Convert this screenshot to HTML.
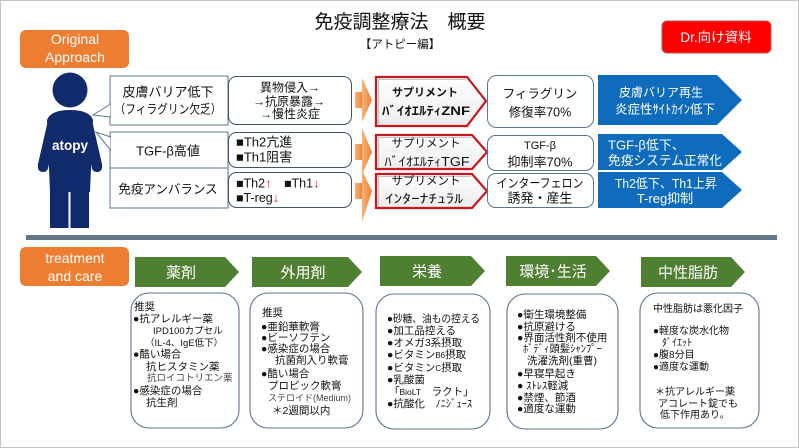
<!DOCTYPE html>
<html lang="ja">
<head>
<meta charset="utf-8">
<style>
  html,body{margin:0;padding:0;background:#fff;}
  svg{display:block;}
  text{font-family:"Liberation Sans","Noto Sans CJK JP",sans-serif;}
</style>
</head>
<body>
<svg width="799" height="448" viewBox="0 0 799 448" xmlns="http://www.w3.org/2000/svg">
  <defs>
    <linearGradient id="og" x1="0" y1="0" x2="1" y2="0">
      <stop offset="0" stop-color="#f7b27a"/>
      <stop offset="1" stop-color="#ee8033"/>
    </linearGradient>
    <linearGradient id="sg" x1="0" y1="0" x2="0" y2="1">
      <stop offset="0" stop-color="#ffffff"/>
      <stop offset="1" stop-color="#ececec"/>
    </linearGradient>
  </defs>

  <!-- page frame -->
  <rect x="0.5" y="0.5" width="798" height="447" fill="#fff" stroke="#c4c4c4" stroke-width="1"/>

  <!-- Title -->
  <text x="400" y="28" font-size="19" text-anchor="middle" fill="#111">免疫調整療法　概要</text>
  <text x="400" y="48" font-size="11.5" text-anchor="middle" fill="#111">【アトピー編】</text>

  <!-- Dr box -->
  <rect x="662" y="21" width="109" height="32" rx="5" fill="#ff0000" stroke="#b55" stroke-width="1"/>
  <text x="716" y="42" font-size="13.5" text-anchor="middle" fill="#fff">Dr.向け資料</text>

  <!-- Original Approach -->
  <rect x="20" y="30" width="109" height="38" rx="6" fill="#ed7d31"/>
  <text x="75" y="44" font-size="14" text-anchor="middle" fill="#fff">Original</text>
  <text x="75" y="62" font-size="14" text-anchor="middle" fill="#fff">Approach</text>

  <!-- Left callout boxes -->
  <g fill="#fff" stroke="#5a7391" stroke-width="1">
    <rect x="110" y="76" width="118" height="49"/>
    <rect x="110" y="132" width="118" height="36"/>
    <rect x="110" y="168" width="118" height="40"/>
    <polygon points="110.5,104 93,115 110.5,117"/>
    <polygon points="110.5,137 96,132 110.5,150"/>
  </g>
  <!-- cover tail joins -->
  <rect x="110.5" y="104.5" width="1.2" height="12" fill="#fff"/>
  <rect x="110.5" y="137.5" width="1.2" height="12" fill="#fff"/>
  <text x="168" y="96.5" font-size="13" text-anchor="middle" fill="#111">皮膚バリア低下</text>
  <text x="168" y="113.5" font-size="12.5" text-anchor="middle" fill="#111" textLength="107" lengthAdjust="spacingAndGlyphs">（フィラグリン欠乏）</text>
  <text x="168" y="155.5" font-size="13" text-anchor="middle" fill="#111">TGF-β高値</text>
  <text x="168" y="193.5" font-size="12.5" text-anchor="middle" fill="#111">免疫アンバランス</text>

  <!-- Person (drawn on top of tails) -->
  <g fill="#102a6b">
    <circle cx="70" cy="90" r="17.5"/>
    <path d="M47 120 C50 112 60 110 70 110 C80 110 90 112 93 120 L90 192 L50 192 Z"/>
    <path d="M84 122 L91 116 L102 164 Q103 172 97 172 Q92 172 91.5 166 L84 140 Z"/>
    <path d="M56 122 L49 116 L38 164 Q37 172 43 172 Q48 172 48.5 166 L56 140 Z"/>
    <rect x="50" y="185" width="18.5" height="43"/>
    <rect x="70.5" y="185" width="18.5" height="43"/>
  </g>
  <text x="70" y="150" font-size="13.5" font-weight="bold" text-anchor="middle" fill="#fff">atopy</text>

  <!-- Middle rounded boxes -->
  <g fill="#fff" stroke="#44546a" stroke-width="1">
    <rect x="228.5" y="76.5" width="123" height="48" rx="8"/>
    <rect x="228.5" y="132.5" width="123" height="35" rx="8"/>
    <rect x="228.5" y="172.5" width="123" height="35" rx="8"/>
  </g>
  <text x="290" y="91.5" font-size="12" text-anchor="middle" fill="#111">異物侵入→</text>
  <text x="289" y="105.5" font-size="12" text-anchor="middle" fill="#111">→抗原暴露→</text>
  <text x="290" y="118" font-size="12" text-anchor="middle" fill="#111">→慢性炎症</text>
  <text x="236" y="146.5" font-size="13" fill="#111">■Th2亢進</text>
  <text x="236" y="161.5" font-size="13" fill="#111">■Th1阻害</text>
  <text x="236" y="187.5" font-size="12.5" fill="#111">■Th2<tspan fill="#e8231e">↑</tspan></text>
  <text x="284" y="187.5" font-size="12.5" fill="#111">■Th1<tspan fill="#e8231e">↓</tspan></text>
  <text x="236" y="202" font-size="12.5" fill="#111">■T-reg<tspan fill="#e8231e">↓</tspan></text>

  <!-- Orange arrows -->
  <g fill="url(#og)">
    <rect x="355" y="92" width="8" height="16"/>
    <polygon points="362,78 372,100 362,122"/>
    <rect x="355" y="144" width="8" height="16"/>
    <polygon points="362,128 372,152 362,175"/>
    <rect x="355" y="183" width="8" height="16"/>
    <polygon points="362,170 372,191 362,222"/>
  </g>

  <!-- Supplement (red pentagons) -->
  <g fill="url(#sg)" stroke="#c8171d" stroke-width="2.2">
    <polygon points="376,77 467,77 486,101 467,126 376,126"/>
    <polygon points="376,135 472,135 487,152 472,169 376,169"/>
    <polygon points="376,174 472,174 487,191 472,208 376,208"/>
  </g>
  <g fill="none" stroke="#b0b0b0" stroke-width="0.8">
    <polyline points="378.5,124 378.5,79.5 466,79.5"/>
    <polyline points="378.5,167 378.5,137.5 471,137.5"/>
    <polyline points="378.5,206 378.5,176.5 471,176.5"/>
  </g>
  <text x="425" y="96" font-size="11" font-weight="bold" text-anchor="middle" fill="#111">サプリメント</text>
  <text x="426" y="115" font-size="12" font-weight="bold" text-anchor="middle" fill="#111" textLength="88" lengthAdjust="spacingAndGlyphs">ﾊﾞｲｵｴﾙﾃｨZNF</text>
  <text x="426" y="147" font-size="11.5" text-anchor="middle" fill="#111">サプリメント</text>
  <text x="427" y="166" font-size="12.5" text-anchor="middle" fill="#111" textLength="85" lengthAdjust="spacingAndGlyphs">ﾊﾞｲｵｴﾙﾃｨTGF</text>
  <text x="426" y="184.5" font-size="11.5" text-anchor="middle" fill="#111">サプリメント</text>
  <text x="424" y="203" font-size="12.5" text-anchor="middle" fill="#111" textLength="78" lengthAdjust="spacingAndGlyphs">ｲﾝﾀｰﾅﾁｭﾗﾙ</text>

  <!-- Result boxes -->
  <g fill="#fff" stroke="#5a7391" stroke-width="1">
    <rect x="487.5" y="75.5" width="106" height="52" rx="9"/>
    <rect x="487.5" y="135.5" width="106" height="35" rx="8"/>
    <rect x="487.5" y="173.5" width="106" height="34" rx="8"/>
  </g>
  <text x="540" y="98" font-size="12.5" text-anchor="middle" fill="#111">フィラグリン</text>
  <text x="540" y="116.5" font-size="12.5" text-anchor="middle" fill="#111">修復率70%</text>
  <text x="540" y="149" font-size="11" text-anchor="middle" fill="#111">TGF-β</text>
  <text x="540" y="166.5" font-size="13" text-anchor="middle" fill="#111">抑制率70%</text>
  <text x="540" y="187.5" font-size="12.5" text-anchor="middle" fill="#111" textLength="87" lengthAdjust="spacingAndGlyphs">インターフェロン</text>
  <text x="540" y="202.5" font-size="13" text-anchor="middle" fill="#111">誘発・産生</text>

  <!-- Blue pentagons -->
  <g fill="#0f6cbd">
    <polygon points="598,75 717,75 742,100 717,125 598,125"/>
    <polygon points="598,134 722,134 742,152 722,170 598,170"/>
    <polygon points="598,172 722,172 742,190 722,208 598,208"/>
  </g>
  <text x="661" y="96.5" font-size="12" text-anchor="middle" fill="#fff">皮膚バリア再生</text>
  <text x="665" y="113.5" font-size="12.5" text-anchor="middle" fill="#fff" textLength="100" lengthAdjust="spacingAndGlyphs">炎症性ｻｲﾄｶｲﾝ低下</text>
  <text x="608" y="149.5" font-size="13" fill="#fff">TGF-β低下、</text>
  <text x="608" y="165" font-size="13" fill="#fff" textLength="114" lengthAdjust="spacingAndGlyphs">免疫システム正常化</text>
  <text x="666" y="188" font-size="13" text-anchor="middle" fill="#fff" textLength="102" lengthAdjust="spacingAndGlyphs">Th2低下、Th1上昇</text>
  <text x="665" y="203" font-size="13" text-anchor="middle" fill="#fff">T-reg抑制</text>

  <!-- Separator -->
  <rect x="26" y="235" width="751" height="5" fill="#64768a"/>

  <!-- treatment and care -->
  <rect x="20" y="247" width="109" height="39" rx="6" fill="#ed7d31"/>
  <text x="75" y="263" font-size="14" text-anchor="middle" fill="#fff">treatment</text>
  <text x="75" y="281" font-size="14" text-anchor="middle" fill="#fff">and care</text>

  <!-- Green arrows -->
  <g fill="#4f7f31">
    <polygon points="135,257 225,257 239,272 225,287 135,287"/>
    <polygon points="252,257 348,257 362,272 348,287 252,287"/>
    <polygon points="380,256 471,256 485,271 471,286 380,286"/>
    <polygon points="506,256 596,256 610,271 596,286 506,286"/>
    <polygon points="641,257 731,257 745,272 731,287 641,287"/>
  </g>
  <g font-size="15" fill="#fff" text-anchor="middle">
    <text x="181" y="277.5">薬剤</text>
    <text x="303" y="277.5">外用剤</text>
    <text x="427" y="276.5">栄養</text>
    <text x="553" y="276.5">環境･生活</text>
    <text x="688" y="277.5">中性脂肪</text>
  </g>

  <!-- Bottom content boxes -->
  <g fill="#fff" stroke="#5a7391" stroke-width="1.1">
    <rect x="131" y="293" width="108" height="135" rx="18"/>
    <rect x="250" y="293" width="113" height="135" rx="18"/>
    <rect x="376" y="294" width="114" height="135" rx="18"/>
    <rect x="507" y="294" width="111" height="135" rx="18"/>
    <rect x="640" y="293" width="119" height="135" rx="18"/>
  </g>

  <!-- Box 1 -->
  <g font-size="10.5" fill="#111">
    <text x="134" y="310">推奨</text>
    <text x="133" y="322">●抗アレルギー薬</text>
    <text x="153" y="334" font-size="9.5">IPD100カプセル</text>
    <text x="145" y="346" font-size="9.5">（IL-4、IgE低下）</text>
    <text x="133" y="357.5">●酷い場合</text>
    <text x="146" y="370">抗ヒスタミン薬</text>
    <text x="147" y="381" font-size="9.5" fill="#444">抗ロイコトリエン薬</text>
    <text x="133" y="394">●感染症の場合</text>
    <text x="146" y="406">抗生剤</text>
  </g>

  <!-- Box 2 -->
  <g font-size="10.5" fill="#111">
    <text x="262" y="316">推奨</text>
    <text x="261" y="330">●亜鉛華軟膏</text>
    <text x="261" y="341">●ビーソフテン</text>
    <text x="261" y="352">●感染症の場合</text>
    <text x="275" y="363.5">抗菌剤入り軟膏</text>
    <text x="261" y="377">●酷い場合</text>
    <text x="268" y="389">プロピック軟膏</text>
    <text x="268" y="401" font-size="9" fill="#444">ステロイド(Medium)</text>
    <text x="272" y="414">＊2週間以内</text>
  </g>

  <!-- Box 3 -->
  <g font-size="10.5" fill="#111">
    <text x="387" y="322" textLength="93" lengthAdjust="spacingAndGlyphs">●砂糖、油もの控える</text>
    <text x="387" y="334">●加工品控える</text>
    <text x="387" y="346">●オメガ3系摂取</text>
    <text x="387" y="358">●ビタミン<tspan font-size="8">B6</tspan>摂取</text>
    <text x="387" y="371">●ビタミン<tspan font-size="8">C</tspan>摂取</text>
    <text x="387" y="383">●乳酸菌</text>
    <text x="389" y="395">「<tspan font-size="8.5">BioLT</tspan>　ラクト」</text>
    <text x="387" y="407">●抗酸化　ﾉﾆｼﾞｭｰｽ</text>
  </g>

  <!-- Box 4 -->
  <g font-size="10.5" fill="#111">
    <text x="517" y="318">●衛生環境整備</text>
    <text x="517" y="330">●抗原避ける</text>
    <text x="517" y="341">●界面活性剤不使用</text>
    <text x="523" y="352">ﾎﾞﾃﾞｨ頭髪ｼｬﾝﾌﾟｰ</text>
    <text x="527" y="364">洗濯洗剤(重曹)</text>
    <text x="517" y="377">●早寝早起き</text>
    <text x="517" y="389">● ｽﾄﾚｽ軽減</text>
    <text x="517" y="401">●禁煙、節酒</text>
    <text x="517" y="412">●適度な運動</text>
  </g>

  <!-- Box 5 -->
  <g font-size="10" fill="#111">
    <text x="653" y="312">中性脂肪は悪化因子</text>
    <text x="653" y="334">●軽度な炭水化物</text>
    <text x="662" y="346">ﾀﾞｲｴｯﾄ</text>
    <text x="653" y="358">●腹8分目</text>
    <text x="653" y="370">●適度な運動</text>
    <text x="655" y="395">＊抗アレルギー薬</text>
    <text x="658" y="407">アコレート錠でも</text>
    <text x="660" y="418">低下作用あり。</text>
  </g>
</svg>
</body>
</html>
